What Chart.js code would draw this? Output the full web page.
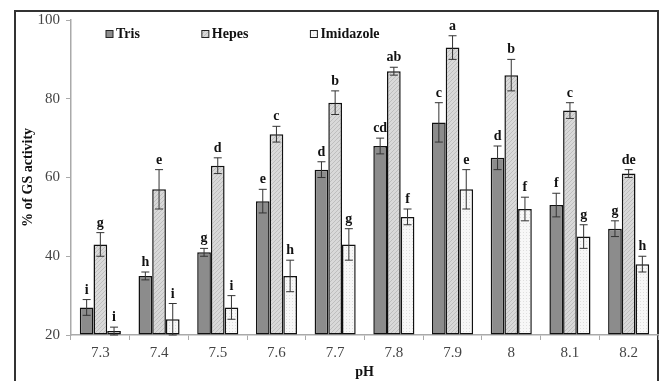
<!DOCTYPE html>
<html>
<head>
<meta charset="utf-8">
<script src="https://cdn.jsdelivr.net/npm/chart.js@4.4.1/dist/chart.umd.min.js"></script>
<style>
  html, body { margin: 0; padding: 0; background: #fff; }
  #wrap { width: 668px; height: 381px; }
</style>
</head>
<body>
<div id="wrap"><canvas id="gsChart" width="668" height="381"></canvas></div>
<script>
// pH values on the x axis
const phLabels = ['7.3', '7.4', '7.5', '7.6', '7.7', '7.8', '7.9', '8', '8.1', '8.2'];

// % of GS activity per buffer, with error (SD) and significance letters
const trisValues = [27, 35, 41, 54, 62, 68, 74, 65, 53, 47];
const trisErrors = [2, 1, 1, 3, 2, 2, 5, 3, 3, 2];
const trisLetters = ['i', 'h', 'g', 'e', 'd', 'cd', 'c', 'd', 'f', 'g'];

const hepesValues = [43, 57, 63, 71, 79, 87, 93, 86, 77, 61];
const hepesErrors = [3, 5, 2, 2, 3, 1, 3, 4, 2, 1];
const hepesLetters = ['g', 'e', 'd', 'c', 'b', 'ab', 'a', 'b', 'c', 'de'];

const imidValues = [21, 24, 27, 35, 43, 50, 57, 52, 45, 38];
const imidErrors = [1, 4, 3, 4, 4, 2, 5, 3, 3, 2];
const imidLetters = ['i', 'i', 'i', 'h', 'g', 'f', 'e', 'f', 'g', 'h'];

const yTicks = [20, 40, 60, 80, 100];

const serif = "'Liberation Serif', 'Times New Roman', serif";
const ctx = document.getElementById('gsChart').getContext('2d');

// fill patterns like the old excel greyscale bars
function hatchPattern(bg, fg) {
    const c = document.createElement('canvas');
    c.width = 4; c.height = 4;
    const p = c.getContext('2d');
    p.fillStyle = bg;
    p.fillRect(0, 0, 4, 4);
    p.strokeStyle = fg;
    p.lineWidth = 0.8;
    p.beginPath();
    p.moveTo(0, 4); p.lineTo(4, 0);
    p.moveTo(-1, 1); p.lineTo(1, -1);
    p.moveTo(3, 5); p.lineTo(5, 3);
    p.stroke();
    return ctx.createPattern(c, 'repeat');
}

function dotPattern(bg, fg) {
    const c = document.createElement('canvas');
    c.width = 3; c.height = 3;
    const p = c.getContext('2d');
    p.fillStyle = bg;
    p.fillRect(0, 0, 3, 3);
    p.fillStyle = fg;
    p.fillRect(1, 1, 1, 1);
    return ctx.createPattern(c, 'repeat');
}

const trisFill = '#8c8c8c';
const hepesFill = hatchPattern('#d9d9d9', '#b8b8b8');
const imidFill = dotPattern('#f7f7f7', '#dedede');

const errorSets = [trisErrors, hepesErrors, imidErrors];
const letterSets = [trisLetters, hepesLetters, imidLetters];

// outer frame of the figure
const framePlugin = {
    id: 'frame',
    beforeDraw(chart) {
        const c = chart.ctx;
        c.save();
        c.fillStyle = '#fff';
        c.fillRect(0, 0, chart.width, chart.height);
        c.strokeStyle = '#333';
        c.lineWidth = 2;
        c.strokeRect(15, 11, 643, 400);
        c.restore();
    }
};

// error bars + letters above each bar
const errorBarPlugin = {
    id: 'errorBars',
    afterDatasetsDraw(chart) {
        const c = chart.ctx;
        const y = chart.scales.y;
        c.save();
        chart.data.datasets.forEach((ds, i) => {
            const meta = chart.getDatasetMeta(i);
            meta.data.forEach((bar, j) => {
                const v = ds.data[j];
                const e = errorSets[i][j];
                const top = y.getPixelForValue(v + e);
                const bot = y.getPixelForValue(v - e);
                c.strokeStyle = '#333';
                c.lineWidth = 1;
                c.beginPath();
                c.moveTo(bar.x, top); c.lineTo(bar.x, bot);
                c.moveTo(bar.x - 4, top); c.lineTo(bar.x + 4, top);
                c.moveTo(bar.x - 4, bot); c.lineTo(bar.x + 4, bot);
                c.stroke();
                c.fillStyle = '#111';
                c.font = 'bold 14px ' + serif;
                c.textAlign = 'center';
                c.textBaseline = 'alphabetic';
                c.fillText(letterSets[i][j], bar.x, top - 6);
            });
        });
        c.restore();
    }
};

// legend drawn inside the plot area, top left
const innerLegend = {
    id: 'innerLegend',
    afterDraw(chart) {
        const c = chart.ctx;
        const area = chart.chartArea;
        let x = area.left + 35;
        const yMid = 34;
        c.save();
        c.font = 'bold 14px ' + serif;
        c.textBaseline = 'middle';
        c.textAlign = 'left';
        chart.data.datasets.forEach(ds => {
            c.fillStyle = ds.backgroundColor;
            c.fillRect(x, yMid - 3.5, 7, 7);
            c.strokeStyle = '#222';
            c.lineWidth = 1;
            c.strokeRect(x, yMid - 3.5, 7, 7);
            c.fillStyle = '#111';
            c.fillText(ds.label, x + 10, yMid);
            x += 10 + c.measureText(ds.label).width + 62;
        });
        c.restore();
    }
};

const barStyle = {
    borderColor: '#111',
    borderWidth: 1.5,
    borderSkipped: false,
    base: 20,
    barPercentage: 1,
    categoryPercentage: 0.7
};

new Chart(ctx, {
    type: 'bar',
    data: {
        labels: phLabels,
        datasets: [
            Object.assign({ label: 'Tris', data: trisValues, backgroundColor: trisFill }, barStyle),
            Object.assign({ label: 'Hepes', data: hepesValues, backgroundColor: hepesFill }, barStyle),
            Object.assign({ label: 'Imidazole', data: imidValues, backgroundColor: imidFill }, barStyle)
        ]
    },
    options: {
        responsive: false,
        animation: false,
        layout: { padding: { left: 16, top: 20, right: 10, bottom: 0 } },
        plugins: {
            legend: { display: false },
            tooltip: { enabled: false }
        },
        scales: {
            x: {
                grid: { drawOnChartArea: false, tickLength: 5, color: '#aaa' },
                border: { color: '#aaa', width: 1.5 },
                ticks: { color: '#444', font: { family: serif, size: 15 }, padding: 4 },
                title: {
                    display: true, text: 'pH', color: '#111',
                    font: { family: serif, size: 14, weight: 'bold' },
                    padding: { top: 0, bottom: 0 }
                },
                afterFit(scale) { scale.height = 46; }
            },
            y: {
                min: 20,
                max: 100,
                afterBuildTicks(scale) { scale.ticks = yTicks.map(v => ({ value: v })); },
                grid: { drawOnChartArea: false, tickLength: 5, color: '#aaa' },
                border: { color: '#aaa', width: 1.5 },
                ticks: { color: '#444', font: { family: serif, size: 15 }, padding: 6 },
                title: {
                    display: true, text: '% of GS activity', color: '#111',
                    font: { family: serif, size: 14, weight: 'bold' },
                    padding: { top: 4, bottom: 0 }
                },
                afterFit(scale) { scale.width = 55; }
            }
        }
    },
    plugins: [framePlugin, errorBarPlugin, innerLegend]
});
</script>
</body>
</html>
